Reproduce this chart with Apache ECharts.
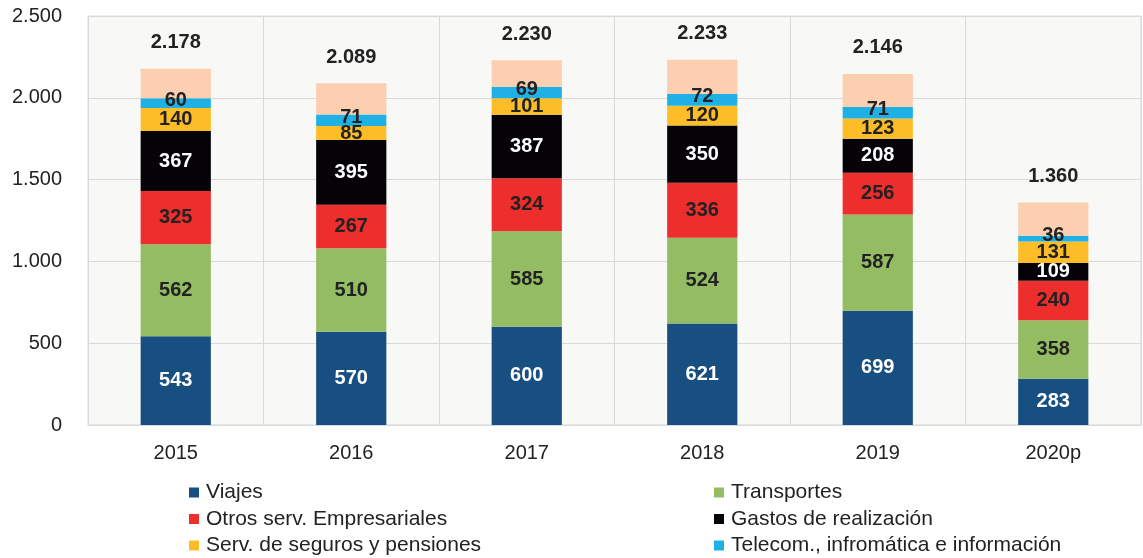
<!DOCTYPE html>
<html><head><meta charset="utf-8">
<script src="https://cdn.jsdelivr.net/npm/echarts@6/dist/echarts.min.js"></script>
<style>html,body{margin:0;padding:0;background:#fff}#c{width:1143px;height:558px}</style>
</head><body><div id="c"></div>
<script>
const categories = ['2015','2016','2017','2018','2019','2020p'];
const viajes = [543,570,600,621,699,283];
const transportes = [562,510,585,524,587,358];
const otros = [325,267,324,336,256,240];
const gastos = [367,395,387,350,208,109];
const seguros = [140,85,101,120,123,131];
const telecom = [60,71,69,72,71,36];
const resto = [181,191,164,210,202,203];
const totals = [2178,2089,2230,2233,2146,1360];
const yTicks = [0,500,1000,1500,2000,2500];

const names = ['Viajes','Transportes','Otros serv. Empresariales','Gastos de realización','Serv. de seguros y pensiones','Telecom., infromática e información','Resto'];
const colors = ['#174f80','#93bc63','#ee2d2d','#050308','#fdbd26','#1fb0e5','#fbcfb0'];
const labelColors = ['#fff','#222','#222','#fff','#222','#222','#222'];
const dataSets = [viajes,transportes,otros,gastos,seguros,telecom,resto];

function fmt(v){return String(v).replace(/\B(?=(\d{3})+(?!\d))/g,'.');}
const FF = 'Liberation Sans, Arial';

const series = dataSets.map((d,i)=>({
  name:names[i], type:'bar', stack:'t', data:d, barWidth:'40%',
  itemStyle:{color:colors[i]},
  label: i<6 ? {show:true, position:'inside', color:labelColors[i], fontFamily:FF, fontWeight:'bold', fontSize:20,
    offset: i===5?[0,-3]:[0,0], formatter:p=>fmt(p.value)} :
    {show:true, position:'top', distance:16, color:'#222', fontFamily:FF, fontWeight:'bold', fontSize:20,
     formatter:p=>fmt(totals[p.dataIndex])},
  emphasis:{disabled:true}
}));

const chart = echarts.init(document.getElementById('c'));
const legendText = {fontFamily:FF, fontSize:21, color:'#222', lineHeight:21, padding:[0,0,0,2]};
const legendBase = {orient:'vertical', top:482, height:80, itemGap:5.5, itemWidth:10, itemHeight:10, icon:'rect', textStyle:legendText, selectedMode:false, padding:0};
chart.setOption({
  animation:false,
  backgroundColor:'#fff',
  grid:{left:88, right:2, top:16, bottom:133, containLabel:false, show:true, backgroundColor:'#f8f8f6', borderColor:'#d9d9d9', borderWidth:1},
  legend:[
    Object.assign({data:[names[0],names[2],names[4]], left:189}, legendBase),
    Object.assign({data:[names[1],names[3],names[5]], left:714}, legendBase)
  ],
  xAxis:{type:'category', data:categories,
    axisLine:{lineStyle:{color:'#d9d9d9'}}, axisTick:{show:false},
    splitLine:{show:true, lineStyle:{color:'#d9d9d9'}},
    axisLabel:{color:'#222', fontFamily:FF, fontSize:20, margin:18}},
  yAxis:{type:'value', min:0, max:2500, interval:500,
    axisLine:{show:false}, axisTick:{show:false},
    splitLine:{lineStyle:{color:'#d9d9d9'}},
    axisLabel:{color:'#222', fontFamily:FF, fontSize:20, margin:26, formatter:v=>fmt(v)}},
  series:series
});
</script></body></html>
